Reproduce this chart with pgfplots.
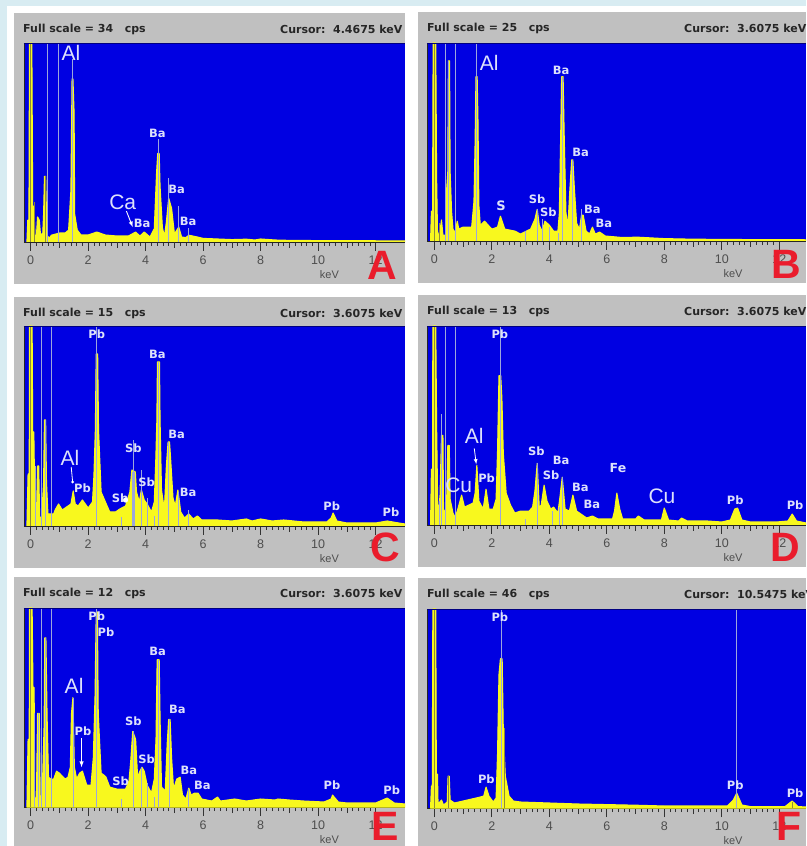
\documentclass[border=0pt]{standalone}
\usepackage{fontspec}
\setmainfont{Liberation Sans}
\newfontfamily\djf{DejaVu Sans}
\usepackage{pgfplots}
\pgfplotsset{compat=1.18}
\definecolor{bgstrip}{HTML}{D8ECF2}
\definecolor{panelgray}{HTML}{C0C0C0}
\definecolor{edsblue}{HTML}{0000E2}
\definecolor{edsyellow}{HTML}{F8F81E}
\definecolor{edsmark}{HTML}{9CA6DC}
\definecolor{labelc}{HTML}{DDE1FB}
\definecolor{tickc}{HTML}{4E4E4E}
\definecolor{redl}{HTML}{EA1C2C}
\pgfplotsset{
  eds/.style={
    scale only axis, ymin=0, ymax=100,
    axis background/.style={fill=edsblue},
    clip mode=individual,
    axis x line*=bottom, axis y line*=left,
    axis line style={draw=black!85, line width=0.9pt},
    ytick=\empty,
    xtick={0,2,...,12},
    minor x tick num=9,
    extra x ticks={1,3,5,7,9,11},
    extra x tick labels={},
    extra x tick style={major tick length=6pt},
    tick align=outside,
    tick pos=bottom,
    major tick length=9pt,
    minor tick length=4pt,
    every tick/.style={draw=black!80, line width=0.7pt},
    /pgf/number format/assume math mode=true,
    xticklabel style={font=\fontsize{12.5}{12.5}\selectfont, text=tickc, yshift=-1pt},
  },
  spec/.style={fill=edsyellow, draw=edsyellow, line width=1.1pt, line join=round},
  mk/.style={ycomb, no marks, draw=edsmark, line width=0.75pt},
  mko/.style={ycomb, no marks, draw=olive!60!gray, line width=0.8pt},
}
\newcommand\lab[3]{\node[text=labelc,font=\djf\bfseries\fontsize{11.5}{11.5}\selectfont] at (axis cs:#1,#2) {#3};}
\newcommand\biglab[3]{\node[text=labelc,font=\fontsize{21}{21}\selectfont] at (axis cs:#1,#2) {#3};}
\newcommand\kevlab{\node[text=tickc,font=\fontsize{11}{11}\selectfont] at (axis cs:10.39,0) [yshift=-33pt] {keV};}
\newcommand\topline{\draw[draw=blue!50!black,line width=0.8pt] (rel axis cs:0,1)--(rel axis cs:1,1);}
\newcommand\head[6]{%
  \begin{scope}
    \clip (#1,#2) rectangle (#3,#4);
    \fill[panelgray] (#1,#2) rectangle (#3,#4);
    \node[anchor=west,inner sep=0pt,text=black!85,font=\djf\bfseries\fontsize{11}{11}\selectfont] at (#1+9,#4-16) {Full scale = #5\ \ \ cps};
    \node[anchor=west,inner sep=0pt,text=black!85,font=\djf\bfseries\fontsize{11}{11}\selectfont] at (#1+266,#4-16) {Cursor:\ \ #6 keV};
  \end{scope}}
\begin{document}
\begin{tikzpicture}[x=1pt,y=1pt]
\path[use as bounding box,clip] (0,0) rectangle (806,846);
\fill[bgstrip] (0,0) rectangle (806,846);
\fill[white] (7,0) rectangle (806,840);

\head{14}{562}{405}{833}{34}{4.4675}
\head{418}{563}{806}{834}{25}{3.6075}
\head{14}{278}{405}{549}{15}{3.6075}
\head{418}{279}{806}{551}{13}{3.6075}
\head{14}{0}{405}{269}{12}{3.6075}
\head{418}{0}{806}{268}{46}{10.5475}

% ---------- A
\begin{axis}[eds, at={(24pt,604pt)}, width=381pt, height=199pt, xmin=-0.232, xmax=13.02]
\addplot[spec] coordinates {(-0.13,0)(-0.1,11)(-0.06,11)(-0.04,100)(0.04,100)(0.07,18)(0.11,18)(0.15,3)(0.2,3)(0.24,12.6)(0.3,11)(0.34,4)(0.42,4)(0.45,14)(0.48,33)(0.52,33)(0.55,14)(0.58,3)(0.66,2)(0.72,3.4)(1,4.5)(1.2,4.5)(1.32,6)(1.4,26)(1.44,82)(1.47,82)(1.51,65)(1.53,14)(1.62,6)(1.75,3.5)(2,3.5)(2.3,5)(2.6,3.5)(3,3)(3.4,3)(3.65,5)(3.8,3)(3.95,5)(4.15,2.5)(4.3,6.7)(4.38,35)(4.42,44.5)(4.47,44.5)(4.5,28)(4.58,7.5)(4.65,2.5)(4.72,10)(4.8,22)(4.9,17)(5,4)(5.15,7.5)(5.25,2.5)(5.4,2.2)(5.5,3.4)(5.8,2.5)(6,1.8)(6.5,1.5)(7,1.2)(7.5,1.4)(7.8,1)(8,1.5)(8.5,1)(9,0.8)(10,0.7)(11,0.6)(12,0.6)(13.02,0.5)} \closedcycle;
\addplot[mk] coordinates {(0.58,100)(0.96,100)(1.46,92)(4.45,52)(4.8,32)(5.13,18)(5.5,7)};
\addplot[mko] coordinates {(0.5,33)(0,100)(0.13,20)};
\topline\kevlab
\biglab{1.40}{95}{Al}
\lab{4.41}{54.6}{Ba}\lab{5.08}{26.4}{Ba}\lab{3.88}{9.2}{Ba}\lab{5.48}{10.6}{Ba}
\biglab{3.2}{20}{Ca}
\draw[white,line width=0.9pt,-latex] (axis cs:3.33,15.5)--(axis cs:3.55,7.5);
\end{axis}

% ---------- B
\begin{axis}[eds, at={(427pt,605pt)}, width=379pt, height=198pt, xmin=-0.254, xmax=12.93]
\addplot[spec] coordinates {(-0.13,0)(-0.1,15)(-0.06,15)(-0.04,100)(0.05,100)(0.08,32)(0.11,5)(0.17,2)(0.25,10.6)(0.3,3)(0.4,3)(0.43,26)(0.47,35)(0.49,91)(0.53,91)(0.55,35)(0.6,15)(0.65,6)(0.72,4)(0.8,10)(0.85,6)(1,7)(1.3,7)(1.38,20)(1.42,50)(1.45,83)(1.49,83)(1.52,60)(1.55,18)(1.6,8)(1.75,10)(2,6)(2.2,7)(2.3,12.5)(2.45,6)(2.8,5)(3,3.5)(3.2,5)(3.35,6)(3.5,11)(3.58,16)(3.65,8)(3.75,5)(3.85,10)(4,8)(4.15,5)(4.3,5)(4.35,14)(4.4,56)(4.43,83)(4.48,83)(4.52,52)(4.58,14)(4.65,8)(4.72,27)(4.78,41)(4.82,41)(4.87,27)(4.95,9)(5.05,6)(5.12,13)(5.18,13)(5.28,5)(5.4,3.5)(5.5,7)(5.6,3.5)(5.75,4.5)(5.95,2.5)(6.5,1.8)(7.1,1.9)(8,1.2)(9,0.9)(10,0.8)(11,0.7)(12.93,0.6)} \closedcycle;
\addplot[mk] coordinates {(0.4,100)(0.72,100)(1.47,100)(0.5,91)(3.17,5)(3.6,16)(3.75,11)(4,7)(4.3,4)(4.8,41)(4.45,83)(5.12,16)};
\addplot[mko] coordinates {(0,100)(0.17,9)};
\topline\kevlab
\biglab{1.91}{90}{Al}
\lab{4.41}{86}{Ba}\lab{5.09}{45}{Ba}\lab{5.5}{16}{Ba}\lab{5.9}{9}{Ba}
\lab{3.58}{21}{Sb}\lab{3.97}{14.3}{Sb}
\node[text=labelc,font=\djf\bfseries\fontsize{13}{13}\selectfont] at (axis cs:2.32,18) {S};
\end{axis}

% ---------- C
\begin{axis}[eds, at={(24pt,320pt)}, width=381pt, height=200pt, xmin=-0.232, xmax=13.02]
\addplot[spec] coordinates {(-0.13,0)(-0.09,26)(-0.05,26)(-0.04,100)(0.05,100)(0.07,47)(0.11,47)(0.15,5)(0.2,3)(0.24,30)(0.28,30)(0.31,5)(0.38,3)(0.45,22)(0.48,53)(0.52,53)(0.55,22)(0.6,6)(0.7,6)(0.8,6)(0.85,8)(0.97,11)(1.1,8)(1.3,10)(1.4,11)(1.48,17.5)(1.55,11)(1.65,10)(1.8,13)(2,9)(2.15,12)(2.2,25)(2.25,48)(2.28,86)(2.33,86)(2.36,48)(2.45,17)(2.6,12)(2.75,7)(2.95,7)(3.1,8.5)(3.3,10)(3.45,17)(3.52,28)(3.64,27)(3.68,17)(3.78,12)(3.85,18)(3.95,13)(4.05,11)(4.2,7)(4.3,12)(4.35,32)(4.39,53)(4.41,82)(4.48,82)(4.5,53)(4.55,18)(4.65,8)(4.72,30)(4.78,42)(4.83,42)(4.87,33)(4.95,14)(5.03,10)(5.12,18)(5.22,7)(5.35,4)(5.5,6)(5.65,3.5)(5.8,5)(5.95,3)(6.5,3)(7,2.5)(7.5,3.5)(7.7,2.5)(8,3.5)(8.4,2.5)(8.8,3)(9.5,2)(10.3,2)(10.45,4)(10.52,6.5)(10.65,2.5)(11,1.5)(12,1.5)(12.4,2.5)(12.8,1.5)(13.02,1)} \closedcycle;
\addplot[mk] coordinates {(0.38,100)(0.72,100)(2.3,100)(3.58,43)(3.85,28)(4.45,82)(4.8,42)(5.13,17)(5.5,8)(0.15,30)(3.15,4.5)(4.07,14)(4.3,5)(0.5,53)};
\addplot[mk,line width=2.2pt] coordinates {(3.58,27)};
\addplot[mko] coordinates {(0,100)};
\topline\kevlab
\lab{2.3}{96}{Pb}\lab{4.41}{86}{Ba}\lab{5.08}{46}{Ba}\lab{3.57}{39}{Sb}\lab{4.03}{22}{Sb}\lab{3.11}{14}{Sb}\lab{5.48}{17}{Ba}\lab{1.8}{19}{Pb}\lab{10.47}{10}{Pb}\lab{12.53}{7}{Pb}
\biglab{1.37}{34}{Al}
\draw[white,line width=0.8pt] (axis cs:1.41,29.5)--(axis cs:1.46,22);
\fill[white] (axis cs:1.46,22) circle (1.6pt);
\fill[white] (axis cs:3.3,13) circle (2.6pt);
\end{axis}

% ---------- D
\begin{axis}[eds, at={(427pt,321pt)}, width=379pt, height=199pt, xmin=-0.254, xmax=12.93]
\addplot[spec] coordinates {(-0.13,0)(-0.1,28)(-0.06,28)(-0.05,100)(0.05,100)(0.08,50)(0.12,8)(0.16,8)(0.2,15)(0.25,45)(0.3,45)(0.32,8)(0.42,5)(0.47,40)(0.52,40)(0.55,13)(0.65,6)(0.72,4)(0.8,7)(0.95,15)(1.05,9)(1.2,10)(1.35,11)(1.42,16)(1.48,30)(1.55,12)(1.7,8)(1.8,18)(1.9,8)(2.05,8)(2.15,13)(2.2,37)(2.25,75)(2.31,75)(2.35,64)(2.4,36)(2.5,16)(2.65,10)(2.8,6)(3,7)(3.3,7)(3.42,9)(3.5,17)(3.58,31)(3.65,9)(3.72,10)(3.82,20)(3.92,12)(4.05,8)(4.15,9)(4.3,6)(4.38,15)(4.45,24)(4.55,8)(4.7,7)(4.82,15)(4.95,7)(5.15,5)(5.3,3.5)(5.5,4.5)(5.7,3)(5.95,3)(6.2,3)(6.27,7)(6.35,16)(6.45,8)(6.55,3)(7,3)(7.1,4.5)(7.3,2.5)(7.9,2.5)(8,8.5)(8.15,2.5)(8.5,2)(8.6,3.5)(8.8,2)(9.5,2)(10,1.5)(10.3,2.5)(10.45,8)(10.55,8.5)(10.7,2.5)(11,1.5)(11.9,1.5)(12.3,2)(12.45,5.5)(12.6,2)(12.93,1)} \closedcycle;
\addplot[mk] coordinates {(0.38,100)(0.72,100)(0.24,56)(2.3,100)(3.58,31)(0.17,12)(3.17,3)(4.1,7)(4.35,9)(4.45,24)};
\addplot[mko] coordinates {(0,100)};
\topline\kevlab
\lab{2.28}{96}{Pb}\lab{1.82}{23.7}{Pb}\lab{3.55}{37}{Sb}\lab{4.41}{32.6}{Ba}\lab{4.06}{24.9}{Sb}\lab{5.08}{18.7}{Ba}\lab{5.48}{10.3}{Ba}\lab{10.47}{12.4}{Pb}\lab{12.55}{9.7}{Pb}
\node[text=labelc,font=\djf\bfseries\fontsize{12.5}{12.5}\selectfont] at (axis cs:6.39,28.4) {Fe};
\biglab{1.39}{45}{Al}\biglab{0.85}{20}{Cu}\biglab{7.92}{14.5}{Cu}
\draw[white,line width=0.8pt,-latex] (axis cs:1.39,38.5)--(axis cs:1.46,30.5);
\end{axis}

% ---------- E
\begin{axis}[eds, at={(24pt,39pt)}, width=381pt, height=199pt, xmin=-0.232, xmax=13.02]
\addplot[spec] coordinates {(-0.13,0)(-0.09,34)(-0.05,34)(-0.04,100)(0.05,100)(0.08,60)(0.12,60)(0.14,5)(0.2,3)(0.24,47)(0.3,47)(0.33,5)(0.4,6)(0.47,42)(0.49,85)(0.53,85)(0.57,46)(0.62,15)(0.7,14)(0.8,14)(0.9,18)(1,17)(1.2,14)(1.3,15)(1.38,20)(1.42,47)(1.47,55)(1.52,20)(1.6,14)(1.7,17)(1.8,18)(1.95,11)(2.1,11)(2.18,25)(2.24,56)(2.28,98)(2.32,98)(2.35,47)(2.45,17)(2.55,16)(2.62,15)(2.75,10)(3,9)(3.3,9)(3.42,13)(3.48,23)(3.55,38)(3.65,34)(3.72,15)(3.8,18)(3.87,20)(3.95,18)(4.05,11)(4.2,7)(4.3,14)(4.36,34)(4.4,74)(4.47,74)(4.5,45)(4.55,10)(4.68,8)(4.75,32)(4.8,44)(4.85,44)(4.9,25)(4.97,9)(5.08,14)(5.2,15)(5.28,6)(5.4,4)(5.5,9.5)(5.58,6)(5.7,7)(5.82,7)(5.95,4)(6.3,3)(6.5,5)(6.6,3)(7.1,4)(7.5,3)(8,4)(8.5,3.5)(8.6,4)(9,3.5)(9.5,3)(10.2,2.5)(10.45,4)(10.5,6)(10.7,2.5)(11,2)(12,2)(12.4,4.5)(12.65,2)(13.02,1.5)} \closedcycle;
\addplot[mk] coordinates {(0.38,100)(0.73,100)(0.5,85)(0.13,47)(1.47,55)(2.3,100)(3.15,4)(3.58,38)(3.85,20)(4.07,12)(4.3,5)(4.45,74)(4.82,44)(5.5,9)(0.27,47)};
\addplot[mko] coordinates {(0,100)};
\topline\kevlab
\lab{2.3}{96}{Pb}\lab{2.62}{88}{Pb}\lab{4.42}{78}{Ba}\lab{5.1}{49}{Ba}\lab{3.57}{43}{Sb}\lab{1.82}{38}{Pb}\lab{4.03}{24}{Sb}\lab{3.13}{13}{Sb}\lab{5.5}{18.5}{Ba}\lab{5.97}{11}{Ba}\lab{10.48}{11}{Pb}\lab{12.56}{8.4}{Pb}
\biglab{1.51}{61}{Al}
\draw[white,line width=1pt,-latex] (axis cs:1.77,34.5)--(axis cs:1.77,20);
\end{axis}

% ---------- F
\begin{axis}[eds, at={(427pt,38pt)}, width=379pt, height=199pt, xmin=-0.254, xmax=12.93]
\addplot[spec] coordinates {(-0.13,0)(-0.1,11)(-0.07,11)(-0.05,100)(0.05,100)(0.07,17)(0.11,17)(0.13,2)(0.25,4)(0.32,1.5)(0.45,3)(0.48,16)(0.52,16)(0.55,4)(0.7,2.5)(1,3.5)(1.3,4.5)(1.6,5.5)(1.72,6)(1.8,10.5)(1.9,6)(2.05,3)(2.15,5)(2.2,27)(2.25,67)(2.3,75)(2.36,75)(2.4,39)(2.47,16)(2.6,6)(2.75,3.5)(3,3)(4,2.5)(5,2)(6,1.7)(7,1.4)(8,1)(9,1)(10.2,1)(10.4,4)(10.52,7.5)(10.7,1.5)(11,0.7)(12.2,0.7)(12.45,3.5)(12.65,0.7)(12.93,0.5)} \closedcycle;
\addplot[mk] coordinates {(2.33,100)(10.52,100)};
\addplot[mko] coordinates {(0,100)(0.5,16)(2.45,40)(12.45,3)};
\topline\kevlab
\lab{2.28}{96}{Pb}\lab{1.81}{14.3}{Pb}\lab{10.47}{11.4}{Pb}\lab{12.55}{7.6}{Pb}
\end{axis}

% ---------- panel letters
\foreach \t/\px/\py in {A/382/265, B/786/264, C/385/547, D/785/547, E/385/826, F/789/826}{
  \node[text=redl,inner sep=0pt,font=\bfseries\fontsize{41}{41}\selectfont] at (\px,846-\py) {\t};
}
\end{tikzpicture}
\end{document}
